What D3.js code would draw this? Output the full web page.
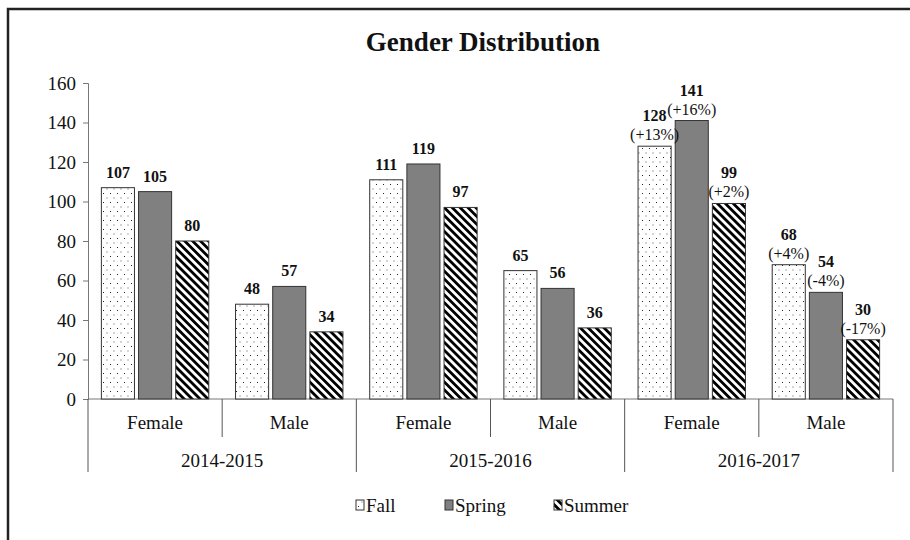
<!DOCTYPE html>
<html lang="en">
<head>
<meta charset="utf-8">
<title>Gender Distribution</title>
<style type="text/css">
    body { margin: 0; background: #fff; }
    text { font-family: "Liberation Serif", "DejaVu Serif", serif; fill: #111; }
</style>
</head>
<body>
<script src="https://d3js.org/d3.v7.min.js"></script>
<script>

    var years = ["2014-2015", "2015-2016", "2016-2017"];
    var genders = ["Female", "Male"];
    var seasons = ["Fall", "Spring", "Summer"];

    // values per year, gender, in season order
    var fall   = [107, 48, 111, 65, 128, 68];
    var spring = [105, 57, 119, 56, 141, 54];
    var summer = [80, 34, 97, 36, 99, 30];
    // change labels shown for the last year only
    var pctFall   = [null, null, null, null, "(+13%)", "(+4%)"];
    var pctSpring = [null, null, null, null, "(+16%)", "(-4%)"];
    var pctSummer = [null, null, null, null, "(+2%)", "(-17%)"];
    var yTicks = [0, 20, 40, 60, 80, 100, 120, 140, 160];

    var width = 910, height = 540;
    var margin = {top: 83, left: 88, right: 17, bottom: 141};
    var plotW = width - margin.left - margin.right,
        plotH = height - margin.top - margin.bottom;

    var svg = d3.select("body").append("svg")
        .attr("width", width)
        .attr("height", height);

    // patterns
    var defs = svg.append("defs");
    var dots = defs.append("pattern")
        .attr("id", "dots")
        .attr("patternUnits", "userSpaceOnUse")
        .attr("width", 7).attr("height", 9);
    dots.append("rect").attr("width", 7).attr("height", 9).attr("fill", "#fff");
    dots.append("rect").attr("x", 1).attr("y", 2).attr("width", 1).attr("height", 1).attr("fill", "#222");
    dots.append("rect").attr("x", 4.5).attr("y", 6.5).attr("width", 1).attr("height", 1).attr("fill", "#555");

    var stripes = defs.append("pattern")
        .attr("id", "stripes")
        .attr("patternUnits", "userSpaceOnUse")
        .attr("width", 5.6).attr("height", 5.6)
        .attr("patternTransform", "rotate(-45)");
    stripes.append("rect").attr("width", 5.6).attr("height", 5.6).attr("fill", "#fff");
    stripes.append("rect").attr("width", 2.8).attr("height", 5.6).attr("fill", "#000");

    var fills = {Fall: "url(#dots)", Spring: "#808080", Summer: "url(#stripes)"};

    // frame
    svg.append("path")
        .attr("d", "M8," + height + "V9H" + width)
        .attr("fill", "none")
        .attr("stroke", "#222")
        .attr("stroke-width", 2.5);

    svg.append("text")
        .attr("x", 483).attr("y", 51)
        .attr("text-anchor", "middle")
        .style("font-size", "27px")
        .style("font-weight", "bold")
        .text("Gender Distribution");

    var g = svg.append("g")
        .attr("transform", "translate(" + margin.left + "," + margin.top + ")");

    var groups = [];
    years.forEach(function(y) {
        genders.forEach(function(s) { groups.push(y + "|" + s); });
    });

    var x0 = d3.scaleBand().domain(groups).range([0, plotW]);
    var x1 = d3.scaleBand().domain(seasons).range([0, x0.bandwidth()])
        .paddingInner(0.11).paddingOuter(0.36);
    var y = d3.scaleLinear().domain([0, 160]).range([plotH, 0]);

    // y axis
    var yAxis = d3.axisLeft(y).tickValues(yTicks).tickSize(5).tickPadding(7);
    var yg = g.append("g").call(yAxis);
    yg.select(".domain").attr("stroke", "#777");
    yg.selectAll(".tick line").attr("stroke", "#777");
    yg.selectAll(".tick text")
        .style("font-size", "19px")
        .style("font-family", "Liberation Serif, serif")
        .attr("fill", "#111");

    // x axis with two levels
    g.append("line")
        .attr("x1", 0).attr("x2", plotW)
        .attr("y1", plotH).attr("y2", plotH)
        .attr("stroke", "#777");

    groups.forEach(function(k, i) {
        var xs = x0(k);
        var isYearStart = (i % 2 === 0);
        g.append("line")
            .attr("x1", xs).attr("x2", xs)
            .attr("y1", plotH).attr("y2", plotH + (isYearStart ? 73 : 38))
            .attr("stroke", "#555");
        g.append("text")
            .attr("x", xs + x0.bandwidth() / 2)
            .attr("y", plotH + 30)
            .attr("text-anchor", "middle")
            .style("font-size", "19px")
            .text(k.split("|")[1]);
    });
    g.append("line")
        .attr("x1", plotW).attr("x2", plotW)
        .attr("y1", plotH).attr("y2", plotH + 73)
        .attr("stroke", "#555");

    years.forEach(function(yr) {
        var xs = x0(yr + "|Female");
        g.append("text")
            .attr("x", xs + x0.bandwidth())
            .attr("y", plotH + 68)
            .attr("text-anchor", "middle")
            .style("font-size", "19px")
            .text(yr);
    });

    // bars
    var series = {Fall: fall, Spring: spring, Summer: summer};
    var pcts = {Fall: pctFall, Spring: pctSpring, Summer: pctSummer};
    var data = [];
    groups.forEach(function(k, i) {
        seasons.forEach(function(s) {
            data.push({group: k, season: s, value: series[s][i], pct: pcts[s][i]});
        });
    });

    g.selectAll("rect.bar")
        .data(data)
        .enter()
        .append("rect")
        .attr("class", "bar")
        .attr("x", function(d) { return x0(d.group) + x1(d.season); })
        .attr("y", function(d) { return y(d.value); })
        .attr("width", x1.bandwidth())
        .attr("height", function(d) { return plotH - y(d.value); })
        .attr("fill", function(d) { return fills[d.season]; })
        .attr("stroke", "#333")
        .attr("stroke-width", 1);

    g.selectAll("text.val")
        .data(data)
        .enter()
        .append("text")
        .attr("class", "val")
        .attr("x", function(d) { return x0(d.group) + x1(d.season) + x1.bandwidth() / 2; })
        .attr("y", function(d) { return y(d.value) - (d.pct ? 25 : 10); })
        .attr("text-anchor", "middle")
        .style("font-size", "16px")
        .style("font-weight", "bold")
        .text(function(d) { return d.value; });

    g.selectAll("text.pct")
        .data(data.filter(function(d) { return d.pct; }))
        .enter()
        .append("text")
        .attr("class", "pct")
        .attr("x", function(d) { return x0(d.group) + x1(d.season) + x1.bandwidth() / 2; })
        .attr("y", function(d) { return y(d.value) - 6; })
        .attr("text-anchor", "middle")
        .style("font-size", "16px")
        .text(function(d) { return d.pct; });

    // legend
    var legX = [356, 445, 554];
    var legend = svg.append("g");
    seasons.forEach(function(s, i) {
        legend.append("rect")
            .attr("x", legX[i]).attr("y", 500)
            .attr("width", 8).attr("height", 10)
            .attr("fill", fills[s])
            .attr("stroke", "#333");
        legend.append("text")
            .attr("x", legX[i] + 10).attr("y", 512)
            .style("font-size", "19px")
            .text(s);
    });

</script>
</body>
</html>
